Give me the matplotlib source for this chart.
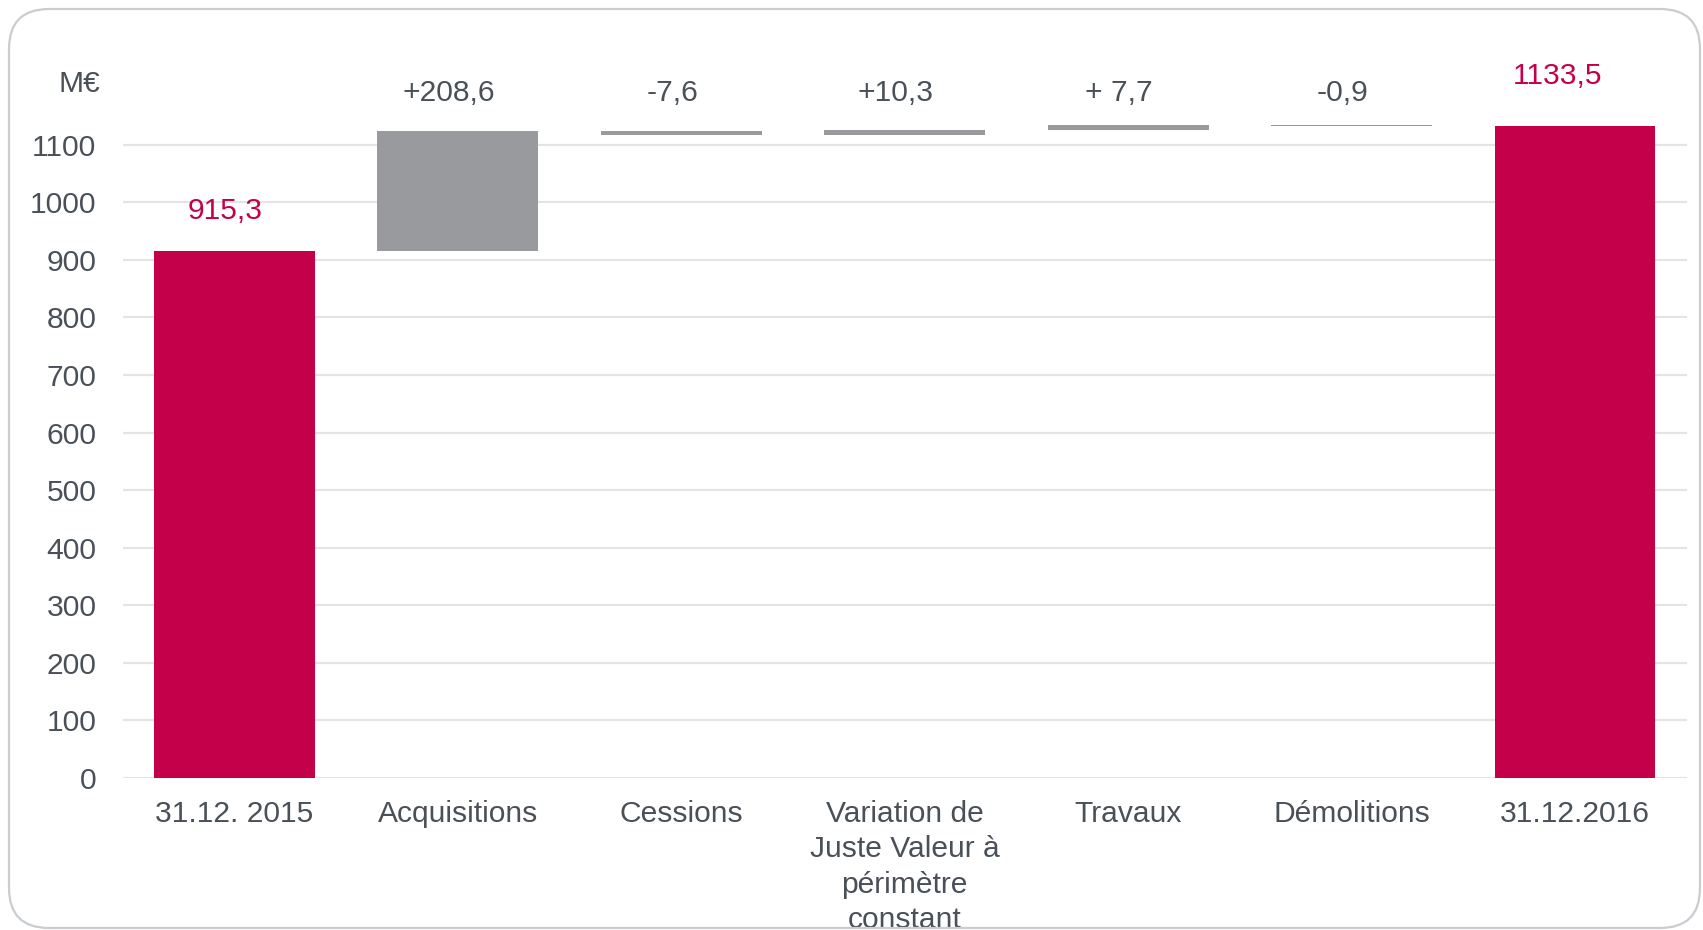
import numpy as np
import matplotlib.pyplot as plt
from matplotlib.patches import FancyBboxPatch
from matplotlib.transforms import IdentityTransform

plt.rcParams['font.family'] = ['Liberation Sans', 'DejaVu Sans']

# Valeur du patrimoine (M€)
categories = ["31.12. 2015", "Acquisitions", "Cessions",
              "Variation de\nJuste Valeur à\npérimètre\nconstant",
              "Travaux", "Démolitions", "31.12.2016"]
debut = 915.3
variations = [208.6, -7.6, 10.3, 7.7, -0.9]
fin = 1133.5
labels_variations = ["+208,6", "-7,6", "+10,3", "+ 7,7", "-0,9"]
labels_totaux = ["915,3", "1133,5"]
yticks = np.arange(0, 1101, 100)

ROUGE = "#C5004A"
GRIS = "#989A9D"
TEXTE = "#4A5058"
GRILLE = "#E4E4E4"
FS = 21.6

fig = plt.figure(figsize=(17.03, 9.3), dpi=100)
ax = fig.add_axes([0.0721, 0.1637, 0.9183, 0.7424])

x = np.arange(len(categories))
largeur = 0.72

# cumul pour les barres flottantes
cumul = debut + np.concatenate([[0], np.cumsum(variations)])
bas = np.minimum(cumul[:-1], cumul[1:])
haut = np.abs(np.array(variations))

ax.bar(x[0], debut, width=largeur, color=ROUGE, zorder=3)
ax.bar(x[1:-1], haut, bottom=bas, width=largeur, color=GRIS, zorder=3)
ax.bar(x[-1], fin, width=largeur, color=ROUGE, zorder=3)

# étiquettes
y_variation = 1190
for xi, lab in zip(x[1:-1], labels_variations):
    ax.text(xi - 0.04, y_variation, lab, ha='center', va='center',
            fontsize=FS, color=TEXTE, clip_on=False)
ax.text(x[0] - 0.04, debut + 70, labels_totaux[0], ha='center', va='center',
        fontsize=FS, color=ROUGE, clip_on=False)
ax.text(x[-1] - 0.08, fin + 87, labels_totaux[1], ha='center', va='center',
        fontsize=FS, color=ROUGE, clip_on=False)

ax.set_xlim(-0.5, 6.5)
ax.set_ylim(0, 1200)
ax.set_yticks(yticks)
ax.set_xticks(x)
ax.set_xticklabels(categories, fontsize=FS, color=TEXTE, linespacing=1.33,
                   va='top')
ax.tick_params(axis='y', length=0, pad=19, labelsize=FS, labelcolor=TEXTE)
ax.tick_params(axis='x', length=0, pad=16)
ax.grid(axis='y', color=GRILLE, linewidth=1.6, zorder=0)
for s in ax.spines.values():
    s.set_visible(False)

fig.text(79 / 1703, 1 - 84 / 930, "M€", ha='center', va='center',
         fontsize=FS, color=TEXTE)

# cadre arrondi
cadre = FancyBboxPatch((9, 2), 1691, 919,
                       boxstyle="round,pad=0,rounding_size=40",
                       transform=IdentityTransform(), facecolor='none',
                       edgecolor="#C9CDD1", linewidth=1.6, zorder=10)
fig.patches.append(cadre)

fig.savefig("out.png", dpi=100)
